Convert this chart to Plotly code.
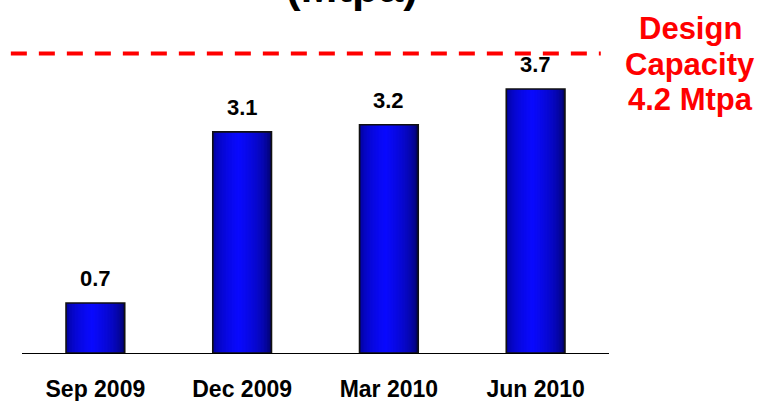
import plotly.graph_objects as go

# Quarterly production rate (Mtpa)
periods = ["Sep 2009", "Dec 2009", "Mar 2010", "Jun 2010"]
capacity_mtpa = [0.7, 3.1, 3.2, 3.7]
design_capacity = 4.2
value_labels = ["0.7", "3.1", "3.2", "3.7"]

FONT = "Arial, Liberation Sans, sans-serif"
BAR_W = 0.40
N_STRIPS = 40
PEAK = 0.44

# plot area spans pixel rows 32..353
PLOT_TOP, PLOT_BOTTOM = 32, 353


def paper_y(py):
    return (PLOT_BOTTOM - py) / (PLOT_BOTTOM - PLOT_TOP)


def shade(t):
    """Cylinder-style shading: dark navy edges, bright blue core."""
    if t < PEAK:
        s, edge = t / PEAK, 110
    else:
        s, edge = (1 - t) / (1 - PEAK), 45
    s = s ** 0.35
    b = int(edge + (255 - edge) * s)
    rg = int(10 * s)
    return f"rgb({rg},{rg},{b})"


fig = go.Figure()

# each strip runs from its own left edge to the bar's right edge, so the
# next strip always paints over colour rather than over the background
step = BAR_W / N_STRIPS
for i in range(N_STRIPS):
    t = (i + 0.5) / N_STRIPS
    fig.add_trace(go.Bar(
        x=periods, y=capacity_mtpa,
        width=BAR_W - i * step, offset=-BAR_W / 2 + i * step,
        marker=dict(color=shade(t), line=dict(width=0)),
        hoverinfo="skip", showlegend=False,
    ))

# outline drawn on top of the shaded strips
fig.add_trace(go.Bar(
    x=periods, y=capacity_mtpa,
    width=BAR_W, offset=-BAR_W / 2,
    marker=dict(color="rgba(0,0,0,0)", line=dict(color="#111111", width=1.6)),
    hovertemplate="%{x}: %{y} Mtpa<extra></extra>", showlegend=False,
))

# value labels above the bars
for p, v, lab in zip(periods, capacity_mtpa, value_labels):
    fig.add_annotation(
        x=p, y=v, text=lab, showarrow=False, yanchor="bottom", yshift=10,
        font=dict(family=FONT, size=22, color="#000000", weight="bold"),
    )

# design capacity reference line
fig.add_shape(
    type="line", xref="paper", yref="y",
    x0=-0.019, x1=0.986, y0=design_capacity, y1=design_capacity,
    line=dict(color="#FF0000", width=4, dash="16px,12px"),
)
cap_lines = ["Design", "Capacity", f"{design_capacity} Mtpa"]
for line_text, py in zip(cap_lines, [28, 64, 99]):
    fig.add_annotation(
        xref="paper", yref="paper", x=1.138, y=paper_y(py),
        xanchor="center", yanchor="middle", showarrow=False,
        text=line_text,
        font=dict(family=FONT, size=31, color="#FF0000", weight="bold"),
    )

# title (second line of the chart heading)
fig.add_annotation(
    xref="paper", yref="paper", x=0.562, y=paper_y(13),
    xanchor="center", yanchor="bottom", showarrow=False,
    text="(Mtpa)",
    font=dict(family=FONT, size=44, color="#000000", weight="bold"),
)

fig.update_layout(
    width=762, height=401,
    margin=dict(l=22, r=153, t=PLOT_TOP, b=401 - PLOT_BOTTOM),
    paper_bgcolor="#FFFFFF", plot_bgcolor="#FFFFFF",
    barmode="overlay", showlegend=False,
    xaxis=dict(
        showline=True, linecolor="#000000", linewidth=1.2,
        showgrid=False, zeroline=False, ticks="", automargin=False,
        ticklabelstandoff=15,
        tickfont=dict(family=FONT, size=23, color="#000000", weight="bold"),
    ),
    yaxis=dict(
        range=[0, 4.5], visible=False, showgrid=False, zeroline=False,
        automargin=False,
    ),
)

fig.write_html("out.html")
